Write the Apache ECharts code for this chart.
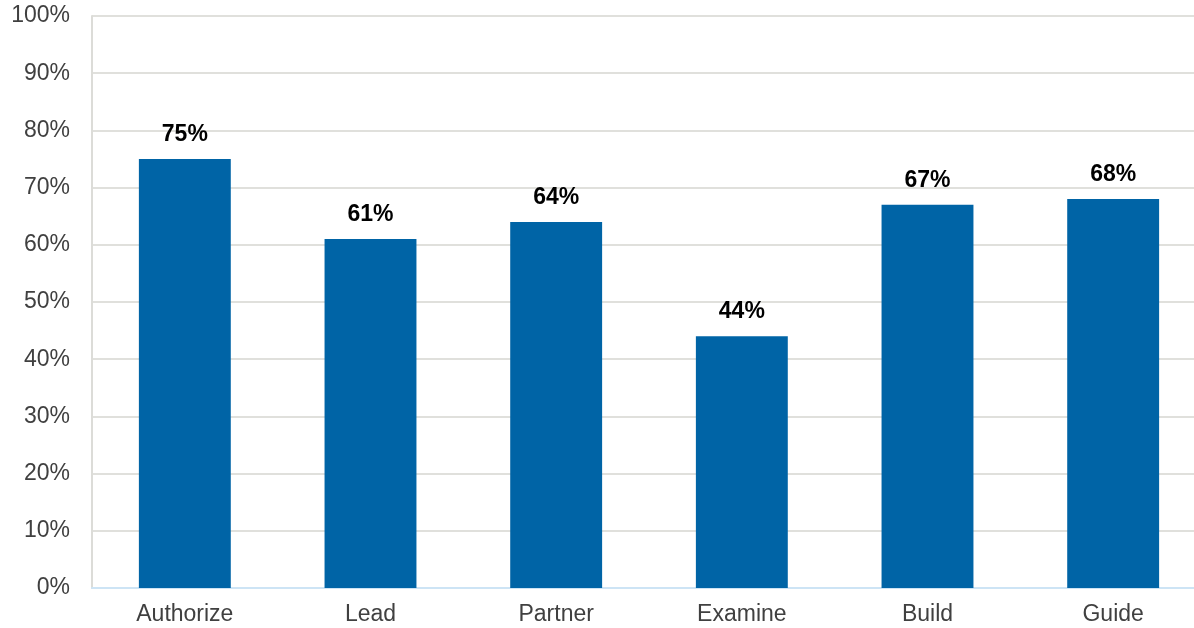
<!DOCTYPE html>
<html><head><meta charset="utf-8">
<script src="https://cdn.jsdelivr.net/npm/echarts@6/dist/echarts.min.js"></script>
<style>html,body{margin:0;padding:0;background:#fff;overflow:hidden;width:1194px;height:628px}#c{width:1206px;height:628px}</style>
</head><body><div id="c"></div>
<script>
const categories = ["Authorize","Lead","Partner","Examine","Build","Guide"];
const values = [75,61,64,44,67,68];
const yTicks = {min:0,max:100,interval:10};

const chart = echarts.init(document.getElementById('c'));
chart.setOption({
  animation:false,
  grid:{left:92,right:0,top:16,bottom:40,containLabel:false},
  xAxis:{type:'category',data:categories,
    axisLine:{show:true,lineStyle:{color:'#cde4f5',width:2}},
    axisTick:{show:false},
    axisLabel:{color:'#404040',fontSize:23,fontFamily:'Liberation Sans, Arial, sans-serif',margin:15},
    splitLine:{show:false}},
  yAxis:{type:'value',min:yTicks.min,max:yTicks.max,interval:yTicks.interval,
    axisLine:{show:true,lineStyle:{color:'#dcdcd8',width:2}},
    axisTick:{show:false},
    axisLabel:{color:'#404040',fontSize:23,fontFamily:'Liberation Sans, Arial, sans-serif',margin:22,formatter:'{value}%'},
    splitLine:{lineStyle:{color:'#e0e0dc',width:2}}},
  series:[{type:'bar',data:values,barWidth:'49.5%',
    itemStyle:{color:'#0064A6'},
    label:{show:true,position:'top',distance:13,color:'#000',fontWeight:'bold',fontSize:23,
      fontFamily:'Liberation Sans, Arial, sans-serif',formatter:'{c}%'}}]
});
</script></body></html>
